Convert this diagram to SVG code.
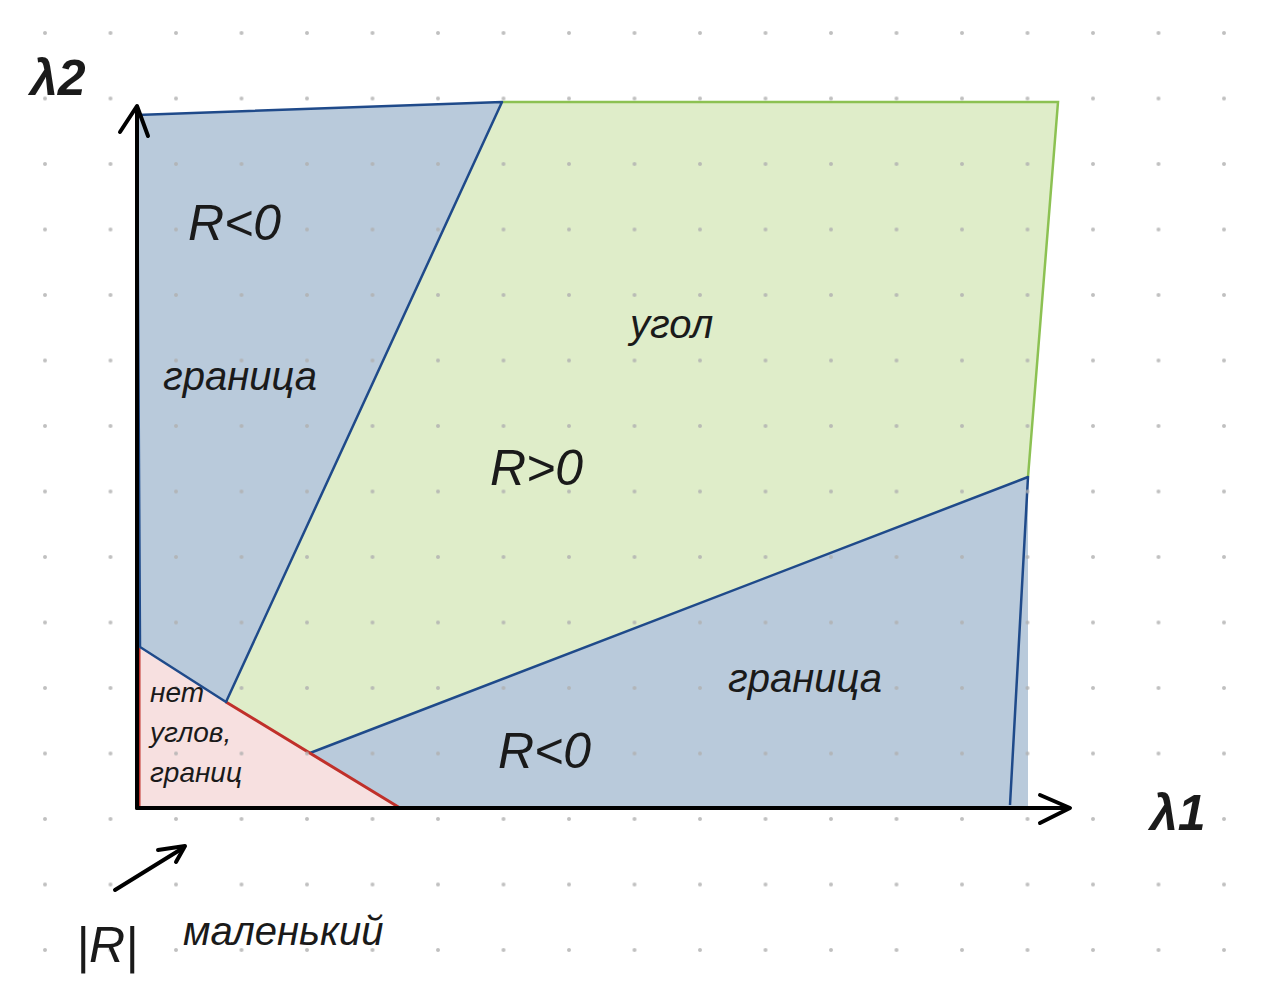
<svg xmlns="http://www.w3.org/2000/svg" width="1280" height="994" viewBox="0 0 1280 994">
<defs>
<pattern id="dots" x="45" y="33" width="65.5" height="65.5" patternUnits="userSpaceOnUse">
<circle cx="0" cy="0" r="2" fill="#b0b0b0"/>
<circle cx="65.5" cy="0" r="2" fill="#b0b0b0"/>
<circle cx="0" cy="65.5" r="2" fill="#b0b0b0"/>
<circle cx="65.5" cy="65.5" r="2" fill="#b0b0b0"/>
</pattern>
<style>
.lbl{font-family:"Liberation Sans",Arial,sans-serif;fill:#1a1a1a;font-style:italic}
.big{font-size:50px}
.mid{font-size:40px}
.sm{font-size:28px}
.blue{fill:#b9cadb;stroke:#1f4a8a;stroke-width:2.5;stroke-linejoin:round}
.green{fill:#dfedc9;stroke:none}
.axis{fill:none;stroke:#000;stroke-width:4;stroke-linecap:round;stroke-linejoin:round}
</style>
</defs>
<rect width="1280" height="994" fill="#ffffff"/>

<g id="region-green">
<polygon class="green" points="502,102 1058,102 1028,477 310,753 226,702"/>
<polyline points="502,102 1058,102 1028,477" fill="none" stroke="#8cc152" stroke-width="2.5"/>
</g>
<g id="region-blue-bottom">
<polygon points="310,753 1028,477 1028,808 400,808" fill="#b9cadb"/>
<polyline points="310,753 1028,477 1010,805" fill="none" stroke="#1f4a8a" stroke-width="2.5" stroke-linejoin="round"/>
</g>
<g id="region-red">
<polygon points="137,647 400,808 137,808" fill="#f7e0e0"/>
<polyline points="226,702 400,808 139,808 139,648" fill="none" stroke="#c0302a" stroke-width="3" stroke-linejoin="round"/>
</g>
<g id="region-blue-top">
<polygon class="blue" points="137,115 502,102 226,702 140,647"/>
</g>
<rect width="1280" height="994" fill="url(#dots)" opacity="0.8"/>

<g id="axes">
<line class="axis" x1="137" y1="808" x2="137" y2="108"/>
<polyline class="axis" points="120,132 137,106 148,136"/>
<line class="axis" x1="137" y1="808" x2="1068" y2="808"/>
<polyline class="axis" points="1040,795 1070,808 1040,823"/>
<line class="axis" x1="115" y1="890" x2="183" y2="848" stroke-width="2.5"/>
<polyline class="axis" points="158,850 185,846 176,862" stroke-width="3"/>
</g>

<g id="labels">
<text class="lbl big" x="30" y="95" font-weight="bold">λ2</text>
<text class="lbl big" x="1150" y="830" font-weight="bold">λ1</text>
<text class="lbl big" x="188" y="240">R&lt;0</text>
<text class="lbl mid" x="163" y="390">граница</text>
<text class="lbl mid" x="630" y="338">угол</text>
<text class="lbl big" x="490" y="485">R&gt;0</text>
<text class="lbl mid" x="728" y="692">граница</text>
<text class="lbl big" x="498" y="768">R&lt;0</text>
<text class="lbl sm" x="150" y="702">нет</text>
<text class="lbl sm" x="150" y="742">углов,</text>
<text class="lbl sm" x="150" y="782">границ</text>
<text class="lbl big" x="76" y="962">|R|</text>
<text class="lbl mid" x="183" y="945">маленький</text>
</g>
</svg>
